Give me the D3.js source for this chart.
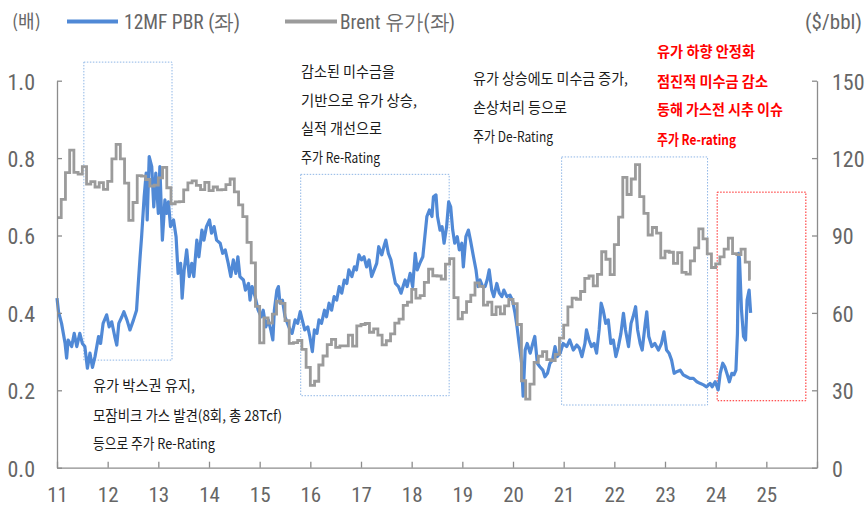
<!DOCTYPE html>
<html><head><meta charset="utf-8">
<script src="https://cdn.jsdelivr.net/npm/d3@7"></script>
<style>
body{margin:0;background:#fff;}
svg{display:block;}
.num{font-family:'Liberation Sans Narrow','Roboto Condensed','Arial Narrow','Liberation Sans',sans-serif;}
.kr{font-family:'Noto Sans CJK KR','Noto Sans',sans-serif;}
</style>
</head><body>
<script>
// ---------- DATA ----------
const xTickLabels = ["11","12","13","14","15","16","17","18","19","20","21","22","23","24","25"];
const leftTicks = [0,0.2,0.4,0.6,0.8,1.0];
const rightTicks = [0,30,60,90,120,150];
const seriesNames = ["12MF PBR (좌)","Brent 유가(좌)"];

// Brent monthly (USD/bbl), Jan 2011 .. Sep 2024
const brentStart = 2011;
const brent = [
 96.9,104.0,114.4,123.1,114.5,113.8,116.7,109.9,110.9,108.8,110.5,107.9,
 111.0,119.7,125.3,119.7,110.3,95.9,102.8,113.2,113.0,111.7,109.1,109.5,
 112.3,116.4,108.5,102.3,103.0,103.1,107.7,110.4,111.2,109.4,107.8,110.6,
 107.4,108.8,107.7,107.8,109.7,111.9,106.9,101.9,97.3,87.3,79.4,62.5,
 48.4,58.1,56.0,59.5,64.6,63.7,57.0,48.2,48.5,49.3,45.9,38.9,
 31.9,33.5,39.8,43.3,47.7,49.7,46.6,47.2,47.2,51.4,47.1,55.0,
 55.5,55.9,52.5,53.8,51.4,47.6,49.2,51.9,56.0,57.6,62.9,64.2,
 69.1,65.7,66.7,71.8,77.0,74.4,74.3,73.1,78.9,81.0,65.9,57.7,
 60.2,64.4,66.9,71.6,70.3,63.0,64.2,59.3,62.3,59.6,62.7,65.2,
 63.6,55.5,33.7,26.6,32.4,40.8,43.2,45.0,41.9,41.5,43.9,50.2,
 55.3,62.3,65.7,65.3,68.3,73.4,74.3,70.5,74.9,83.7,80.8,74.8,
 86.5,97.1,112.5,105.9,111.9,117.5,105.1,98.6,90.2,93.1,90.9,81.3,
 83.9,83.5,79.2,83.4,75.7,75.0,80.2,85.2,92.6,88.7,82.9,77.6,
 79.0,81.7,84.7,89.0,83.0,82.6,84.7,79.7,73.0
];
const brentEnd = 2024.69;

// 12MF PBR (x), time in decimal years
const pbrT = [
 2011.00,2011.03,2011.09,2011.16,2011.19,2011.22,2011.29,2011.34,2011.39,2011.45,2011.50,2011.55,2011.60,2011.65,2011.70,2011.75,2011.82,2011.86,2011.91,2011.98,
 2012.03,2012.08,2012.14,2012.18,2012.22,2012.28,2012.32,2012.38,2012.44,2012.51,2012.57,2012.60,2012.64,2012.67,2012.72,2012.76,2012.78,2012.82,2012.87,2012.91,2012.95,
 2013.00,2013.03,2013.08,2013.13,2013.16,2013.20,2013.24,2013.30,2013.35,2013.39,2013.44,2013.47,2013.51,2013.56,2013.61,2013.66,2013.70,2013.76,2013.80,2013.86,2013.90,2013.95,
 2014.01,2014.05,2014.10,2014.15,2014.22,2014.27,2014.32,2014.38,2014.43,2014.48,2014.53,2014.57,2014.61,2014.68,2014.72,2014.78,2014.81,2014.85,2014.91,2014.97,
 2015.03,2015.07,2015.12,2015.17,2015.22,2015.26,2015.29,2015.34,2015.37,2015.40,2015.45,2015.50,2015.55,2015.60,2015.64,2015.70,2015.75,2015.80,2015.84,2015.89,2015.95,2015.99,
 2016.04,2016.08,2016.13,2016.17,2016.22,2016.28,2016.32,2016.37,2016.42,2016.47,2016.52,2016.57,2016.62,2016.67,2016.72,2016.76,2016.82,2016.87,2016.91,2016.96,
 2017.01,2017.06,2017.11,2017.16,2017.21,2017.26,2017.31,2017.35,2017.41,2017.46,2017.49,2017.54,2017.59,2017.64,2017.68,2017.74,2017.79,2017.83,2017.87,2017.91,2017.97,
 2018.02,2018.07,2018.11,2018.16,2018.22,2018.26,2018.30,2018.35,2018.40,2018.43,2018.48,2018.51,2018.56,2018.60,2018.64,2018.69,2018.73,2018.77,2018.81,2018.85,2018.90,2018.94,2018.99,
 2019.02,2019.07,2019.12,2019.16,2019.22,2019.27,2019.31,2019.35,2019.40,2019.45,2019.49,2019.53,2019.58,2019.62,2019.68,2019.73,2019.78,2019.82,2019.88,2019.94,2019.99,
 2020.04,2020.08,2020.12,2020.17,2020.20,2020.24,2020.28,2020.34,2020.39,2020.43,2020.48,2020.53,2020.59,2020.63,2020.68,2020.73,2020.78,2020.83,2020.87,2020.93,2020.99,
 2021.06,2021.12,2021.19,2021.26,2021.31,2021.36,2021.42,2021.45,2021.50,2021.55,2021.60,2021.65,2021.70,2021.74,2021.78,2021.83,2021.88,2021.93,2021.98,
 2022.03,2022.08,2022.13,2022.18,2022.22,2022.28,2022.33,2022.37,2022.42,2022.46,2022.51,2022.55,2022.61,2022.64,2022.68,2022.74,2022.80,2022.87,2022.93,2022.98,
 2023.03,2023.08,2023.13,2023.18,2023.23,2023.30,2023.36,2023.43,2023.49,2023.56,2023.63,2023.69,2023.76,2023.82,2023.89,2023.93,2023.99,
 2024.05,2024.09,2024.14,2024.18,2024.23,2024.27,2024.32,2024.36,2024.40,2024.43,2024.45,2024.47,2024.51,2024.53,2024.55,2024.59,2024.62,2024.66,2024.69
];
const pbrV = [
 0.438,0.403,0.373,0.321,0.283,0.330,0.313,0.347,0.313,0.347,0.321,0.313,0.257,0.296,0.259,0.287,0.339,0.321,0.373,0.395,
 0.364,0.377,0.339,0.317,0.373,0.390,0.403,0.382,0.356,0.382,0.407,0.468,0.545,0.597,0.700,0.761,0.640,0.804,0.778,0.674,0.761,
 0.657,0.778,0.588,0.692,0.657,0.687,0.623,0.640,0.597,0.502,0.528,0.438,0.511,0.563,0.494,0.528,0.494,0.588,0.545,0.614,0.588,0.623,
 0.640,0.606,0.623,0.588,0.580,0.554,0.563,0.528,0.494,0.537,0.502,0.545,0.494,0.485,0.459,0.476,0.433,0.468,0.442,0.407,
 0.390,0.407,0.364,0.382,0.356,0.330,0.407,0.459,0.468,0.425,0.433,0.390,0.373,0.356,0.347,0.382,0.373,0.403,0.382,0.356,0.364,0.339,
 0.300,0.356,0.347,0.382,0.373,0.407,0.390,0.425,0.407,0.442,0.433,0.468,0.451,0.485,0.476,0.511,0.494,0.519,0.511,0.550,
 0.537,0.545,0.519,0.537,0.494,0.511,0.528,0.571,0.550,0.575,0.588,0.554,0.537,0.502,0.476,0.468,0.451,0.468,0.485,0.468,0.502,
 0.468,0.554,0.511,0.528,0.545,0.597,0.649,0.666,0.649,0.700,0.705,0.649,0.614,0.623,0.580,0.623,0.687,0.674,0.614,0.580,0.597,0.563,0.580,
 0.519,0.597,0.614,0.588,0.545,0.511,0.468,0.485,0.468,0.468,0.485,0.511,0.459,0.442,0.476,0.451,0.442,0.459,0.442,0.446,0.433,
 0.399,0.364,0.321,0.270,0.185,0.304,0.321,0.296,0.321,0.339,0.270,0.261,0.252,0.235,0.244,0.270,0.278,0.313,0.287,0.296,0.321,
 0.313,0.330,0.304,0.317,0.309,0.287,0.321,0.356,0.330,0.313,0.321,0.296,0.356,0.425,0.407,0.373,0.382,0.321,0.330,
 0.287,0.313,0.347,0.399,0.356,0.313,0.373,0.390,0.416,0.356,0.321,0.304,0.373,0.403,0.339,0.313,0.321,0.304,0.321,0.351,
 0.304,0.296,0.278,0.244,0.248,0.252,0.240,0.235,0.231,0.231,0.222,0.218,0.214,0.209,0.218,0.209,0.222,
 0.201,0.244,0.270,0.261,0.240,0.222,0.244,0.240,0.252,0.347,0.554,0.540,0.407,0.373,0.339,0.330,0.433,0.459,0.400
];

// highlight boxes: [t0, t1, vTop, vBottom] on the left (PBR) scale
const boxesBlue = [
 [2011.53, 2013.27, 1.048, 0.278],
 [2015.81, 2018.74, 0.758, 0.186],
 [2020.96, 2023.84, 0.803, 0.162]
];
const boxRed = [2024.03, 2025.78, 0.712, 0.173];

// annotations
const noteA = ["감소된 미수금을","기반으로 유가 상승,","실적 개선으로","주가 Re-Rating"];
const noteB = ["유가 상승에도 미수금 증가,","손상처리 등으로","주가 De-Rating"];
const noteC = ["유가 박스권 유지,","모잠비크 가스 발견(8회, 총 28Tcf)","등으로 주가 Re-Rating"];
const noteD = ["유가 하향 안정화","점진적 미수금 감소","동해 가스전 시추 이슈","주가 Re-rating"];

// ---------- DRAW ----------
const W = 868, H = 506;
const svg = d3.select("body").append("svg").attr("width", W).attr("height", H);

const x = d3.scaleLinear().domain([2011, 2026]).range([57, 817]);
const yL = d3.scaleLinear().domain([0, 1]).range([467.7, 80.7]);
const yR = d3.scaleLinear().domain([0, 150]).range([467.7, 80.7]);

const axisColor = "#8c8c8c", textColor = "#666666";
const blue = "#5089d6", gray = "#9b9b9b";

// boxes
const boxG = svg.append("g");
boxesBlue.forEach(b => {
  boxG.append("rect")
    .attr("x", x(b[0])).attr("y", yL(b[2]))
    .attr("width", x(b[1]) - x(b[0])).attr("height", yL(b[3]) - yL(b[2]))
    .attr("fill", "none").attr("stroke", "#8fb6e6").attr("stroke-width", 1)
    .attr("stroke-dasharray", "1.5,1.5");
});
boxG.append("rect")
  .attr("x", x(boxRed[0])).attr("y", yL(boxRed[2]))
  .attr("width", x(boxRed[1]) - x(boxRed[0])).attr("height", yL(boxRed[3]) - yL(boxRed[2]))
  .attr("fill", "none").attr("stroke", "#ff2020").attr("stroke-width", 1)
  .attr("stroke-dasharray", "1.5,1.5");

// series
const pbr = pbrT.map((t, i) => ({t, v: pbrV[i]}));
const br = brent.map((v, i) => ({t: brentStart + i / 12, v}));
br.push({t: brentEnd, v: brent[brent.length - 1]});

svg.append("path").datum(pbr)
  .attr("d", d3.line().x(d => x(d.t)).y(d => yL(d.v)))
  .attr("fill", "none").attr("stroke", blue).attr("stroke-width", 3.2)
  .attr("stroke-linejoin", "round");

svg.append("path").datum(br)
  .attr("d", d3.line().curve(d3.curveStepAfter).x(d => x(d.t)).y(d => yR(d.v)))
  .attr("fill", "none").attr("stroke", gray).attr("stroke-width", 2.8)
  .attr("stroke-linejoin", "miter");

// axes
function styleAxis(g, fs) {
  g.select(".domain").attr("stroke", axisColor).attr("stroke-width", 1.3);
  g.selectAll(".tick line").attr("stroke", axisColor).attr("stroke-width", 1.3);
  g.selectAll(".tick text").attr("fill", textColor).attr("class", "num").attr("font-size", fs);
  g.attr("font-family", null);
}
const gL = svg.append("g").attr("transform", `translate(${x(2011)},0)`)
  .call(d3.axisLeft(yL).tickValues(leftTicks).tickSize(-5).tickSizeOuter(0)
    .tickPadding(22).tickFormat(d3.format(".1f")));
styleAxis(gL, 22);
gL.selectAll(".tick text").attr("dy", "0.38em");

const gR = svg.append("g").attr("transform", `translate(${x(2026)},0)`)
  .call(d3.axisRight(yR).tickValues(rightTicks).tickSize(-5).tickSizeOuter(0)
    .tickPadding(15).tickFormat(d3.format("d")));
styleAxis(gR, 22);
gR.selectAll(".tick text").attr("dy", "0.38em");

const xTicks = d3.range(2011, 2027);
const gX = svg.append("g").attr("transform", `translate(0,${yL(0)})`)
  .call(d3.axisBottom(x).tickValues(xTicks).tickSize(-6).tickSizeOuter(0)
    .tickPadding(19).tickFormat((d, i) => xTickLabels[i] || ""));
styleAxis(gX, 21);

// legend
const lg = svg.append("g");
lg.append("text").attr("class", "kr").attr("x", 12).attr("y", 28).attr("font-size", 18)
  .attr("fill", textColor).text("(배)");
lg.append("line").attr("x1", 67).attr("x2", 118).attr("y1", 21.5).attr("y2", 21.5)
  .attr("stroke", blue).attr("stroke-width", 4);
lg.append("text").attr("class", "num").attr("x", 124).attr("y", 29).attr("font-size", 21)
  .attr("fill", textColor).attr("textLength", 116).attr("lengthAdjust", "spacingAndGlyphs")
  .text(seriesNames[0]);
lg.append("line").attr("x1", 285).attr("x2", 337).attr("y1", 21.5).attr("y2", 21.5)
  .attr("stroke", gray).attr("stroke-width", 4);
lg.append("text").attr("class", "num").attr("x", 340).attr("y", 29).attr("font-size", 21)
  .attr("fill", textColor).attr("textLength", 115).attr("lengthAdjust", "spacingAndGlyphs")
  .text(seriesNames[1]);
lg.append("text").attr("class", "num").attr("x", 862).attr("y", 29).attr("font-size", 21)
  .attr("text-anchor", "end").attr("fill", textColor).text("($/bbl)");

// annotations
function note(lines, x0, ys, widths, color, weight) {
  const g = svg.append("g");
  lines.forEach((s, i) => {
    g.append("text").attr("class", "kr").attr("x", x0).attr("y", ys[i])
      .attr("font-size", 14.5).attr("font-weight", weight).attr("fill", color)
      .attr("textLength", widths[i]).attr("lengthAdjust", "spacingAndGlyphs")
      .text(s);
  });
}
note(noteA, 301, [77, 105.5, 133.5, 163], [94, 116, 81, 79], "#1a1a1a", 400);
note(noteB, 473, [83.5, 112.5, 141.5], [155, 94, 80], "#1a1a1a", 400);
note(noteC, 93, [390.5, 421, 449], [102, 189, 122], "#1a1a1a", 400);
note(noteD, 657, [57, 87, 114.5, 144.5], [98, 111, 126, 79], "#ff0000", 700);
</script>
</body></html>
